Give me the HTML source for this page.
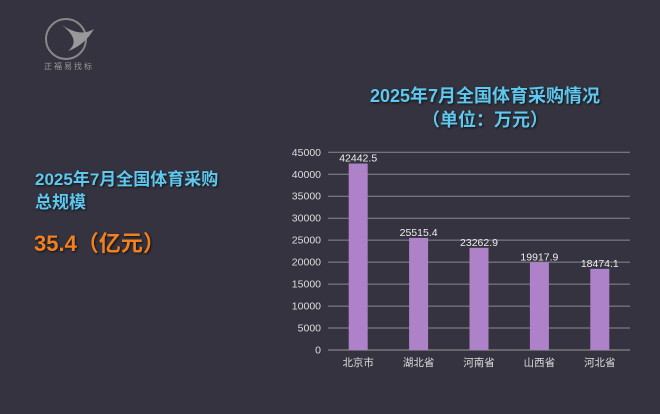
<!DOCTYPE html>
<html><head><meta charset="utf-8"><style>
body{margin:0;width:660px;height:414px;background:#35333f;overflow:hidden;font-family:"Liberation Sans","Noto Sans CJK SC",sans-serif;position:relative}
.t{position:absolute;font-weight:bold;text-shadow:1px 1px 2px #111}
</style></head><body>
<div style="position:absolute;left:44px;top:17px;width:52px;height:52px">
<svg width="60" height="60" viewBox="0 0 60 60"><circle cx="22" cy="22" r="20" fill="none" stroke="#888" stroke-width="2"/><path d="M18 8 C30 16 40 18 50 12 C44 22 36 30 24 34 C34 26 30 18 18 8Z" fill="#999"/></svg>
</div>
<div style="position:absolute;left:44px;top:61px;font-size:8px;color:#999;letter-spacing:2px">正福易找标</div>
<div class="t" style="left:335px;width:300px;top:84px;text-align:center;color:#5ec8f0;font-size:18px;line-height:24px">2025年7月全国体育采购情况<br>（单位：万元）</div>
<div class="t" style="left:35px;top:168px;color:#5ec8f0;font-size:17px;line-height:23px">2025年7月全国体育采购<br>总规模</div>
<div class="t" style="left:34px;top:226px;color:#f08020;font-size:22px">35.4（亿元）</div>
<svg id="c" width="660" height="414" style="position:absolute;left:0;top:0"></svg>
<script>
const categories=["北京市","湖北省","河南省","山西省","河北省"];
const values=[42442.5,25515.4,23262.9,19917.9,18474.1];
const valueLabels=["42442.5","25515.4","23262.9","19917.9","18474.1"];
const ticks=[0,5000,10000,15000,20000,25000,30000,35000,40000,45000];
const svg=document.getElementById('c');const NS='http://www.w3.org/2000/svg';
const x0=328,x1=630,y0=350,yTop=152.3,max=45000;
const y=v=>y0-(v/max)*(y0-yTop);
const band=(x1-x0)/categories.length;
const xc=i=>x0+band*(i+0.5);
function mk(t,a,txt){const e=document.createElementNS(NS,t);for(const k in a)e.setAttribute(k,a[k]);if(txt!=null)e.textContent=txt;svg.appendChild(e);return e;}
ticks.forEach(t=>{
const l=mk('line',{x1:x0,x2:x1,y1:y(t),y2:y(t),stroke:t===0?'#999':'#8a8892','stroke-width':1});


const tx=mk('text',{x:321,y:y(t)+3.5,'text-anchor':'end','font-size':10.5,fill:'#ddd'},t);


});
values.forEach((v,i)=>{
const r=mk('rect',{x:xc(i)-9.5,y:y(v),width:19,height:y0-y(v),fill:'#ae82c8'});


const lb=mk('text',{x:xc(i),y:y(v)-2,'text-anchor':'middle','font-size':10.5,fill:'#eee'},valueLabels[i]);


const c=mk('text',{x:xc(i),y:366,'text-anchor':'middle','font-size':10.5,fill:'#ddd'},categories[i]);


});
</script>
</body></html>
